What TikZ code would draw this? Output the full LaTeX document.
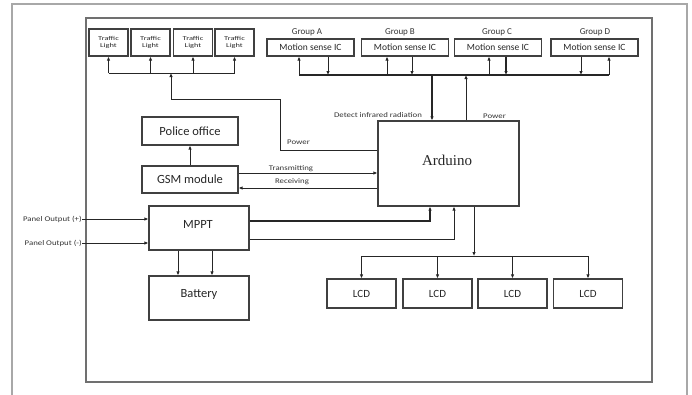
\documentclass[tikz,border=0pt]{standalone}
\usepackage{fontspec}
\setmainfont{Carlito}
\newfontfamily\ardfont{Liberation Serif}
\newfontfamily\widesans[FakeStretch=1.22]{Carlito}
\newfontfamily\xwidesans[FakeStretch=1.4]{Carlito}
\usetikzlibrary{arrows.meta}
\definecolor{boxline}{HTML}{404040}
\definecolor{frameA}{HTML}{A8A8A8}
\definecolor{frameB}{HTML}{707070}
\tikzset{
  blk/.style={draw=boxline, line width=1.2pt, rectangle, inner sep=0pt, align=center, font=\fontsize{12.5}{14}\selectfont, text=black!85},
  mic/.style={blk, minimum width=87pt, minimum height=17pt, font=\fontsize{9.5}{11}\selectfont},
  tlbox/.style={blk, minimum width=39pt, minimum height=27pt, font=\xwidesans\fontsize{6}{7.5}\selectfont},
  lcd/.style={blk, minimum width=69pt, minimum height=29pt, font=\fontsize{11}{13}\selectfont},
  wire/.style={draw=black!85, line width=0.9pt},
  bus/.style={draw=black!85, line width=1.4pt},
  arr/.style={wire, -{Latex[length=4pt,width=3.5pt]}},
  barr/.style={bus, -{Latex[length=4pt,width=3.5pt]}},
  lbl/.style={inner sep=0pt, font=\widesans\fontsize{7.2}{9}\selectfont, text=black!80},
  grp/.style={inner sep=0pt, font=\fontsize{9}{11}\selectfont, text=black!80},
}
\begin{document}
\begin{tikzpicture}[x=1pt,y=-1pt]
\useasboundingbox (0,0) rectangle (692,394);
% frames
\draw[frameA, line width=1.3pt] (12,395) -- (12,4) -- (687,4) -- (687,395);
\draw[frameB, line width=1.2pt] (86,18) rectangle (652,382);

% traffic lights
\node[tlbox] (tl1) at (108.5,42.5) {Traffic\\Light};
\node[tlbox] (tl2) at (150.5,42.5) {Traffic\\Light};
\node[tlbox] (tl3) at (193,42.5) {Traffic\\Light};
\node[tlbox] (tl4) at (234.5,42.5) {Traffic\\Light};

% motion sensors
\node[mic] (mA) at (310.5,47.5) {Motion sense IC};
\node[mic] (mB) at (405,47.5) {Motion sense IC};
\node[mic] (mC) at (498,47.5) {Motion sense IC};
\node[mic] (mD) at (594.5,47.5) {Motion sense IC};
\node[grp] (gA) at (307,32) {Group A};
\node[grp] (gB) at (400,32) {Group B};
\node[grp] (gC) at (497,32) {Group C};
\node[grp] (gD) at (595,32) {Group D};

% main blocks
\node[blk, minimum width=141pt, minimum height=85pt] (ard) at (448.5,163.5) {};
\node[inner sep=0pt, font=\ardfont\fontsize{15}{17}\selectfont, text=black!85] (ardt) at (447,160) {Arduino};
\node[blk, minimum width=96pt, minimum height=28pt] (pol) at (190,131) {Police office};
\node[blk, minimum width=96pt, minimum height=27pt] (gsm) at (190,179.5) {GSM module};
\node[blk, minimum width=100pt, minimum height=44pt] (mppt) at (199,228) {};
\node[inner sep=0pt, font=\fontsize{12.5}{14}\selectfont, text=black!85] (mpptt) at (198,224) {MPPT};
\node[blk, minimum width=100pt, minimum height=44pt] (bat) at (199,298) {};
\node[inner sep=0pt, font=\fontsize{12.5}{14}\selectfont, text=black!85] (batt) at (199,294) {Battery};

\node[lcd] (l1) at (361.5,293.5) {LCD};
\node[lcd] (l2) at (437.5,293.5) {LCD};
\node[lcd] (l3) at (512.5,293.5) {LCD};
\node[lcd] (l4) at (588,293.5) {LCD};

% panel outputs
\node[lbl, anchor=east] (pp) at (82,219) {Panel Output (+)};
\node[lbl, anchor=east] (pm) at (82,243) {Panel Output (-)};
\draw[arr] (pp.east) -- (mppt.west |- pp.east);
\draw[arr] (pm.east) -- (mppt.west |- pm.east);

% MPPT -> battery
\draw[arr] ([xshift=-21pt]mppt.south) -- ([xshift=-21pt]bat.north);
\draw[arr] ([xshift=13pt]mppt.south) -- ([xshift=13pt]bat.north);

% MPPT -> Arduino
\coordinate (m1) at (430,221);
\coordinate (m2) at (454,239);
\draw[barr] (mppt.east |- m1) -- (m1) -- (ard.south -| m1);
\draw[arr] (mppt.east |- m2) -- (m2) -- (ard.south -| m2);

% GSM
\draw[arr] (gsm.north) -- (pol.south);
\coordinate (tx) at (300,173);
\coordinate (rx) at (300,188);
\draw[arr] (gsm.east |- tx) -- (ard.west |- tx);
\draw[arr] (ard.west |- rx) -- (gsm.east |- rx);
\node[lbl] (txl) at (291,169) {Transmitting};
\node[lbl] (rxl) at (292,182) {Receiving};

% traffic light bus
\coordinate (tlb) at (171,73);
\draw[wire] (tl1.south |- tlb) -- (tl4.south |- tlb);
\foreach \t in {tl1,tl2,tl3,tl4} \draw[arr] (\t.south |- tlb) -- (\t.south);
\coordinate (pw1) at (280,150);
\coordinate (pw2) at (280,99);
\coordinate (pw3) at (171,99);
\draw[arr] (ard.west |- pw1) -- (pw1) -- (pw2) -- (pw3) -- (tlb);
\node[lbl, anchor=west] (pwl) at (287,142) {Power};

% motion bus
\coordinate (mb) at (432,75);
\draw[bus] ([xshift=-11.5pt]mA.south |- mb) -- ([xshift=14.5pt]mD.south |- mb);
\draw[arr] ([xshift=-11.5pt]mA.south |- mb) -- ([xshift=-11.5pt]mA.south);
\draw[arr] ([xshift=17.5pt]mA.south) -- ([xshift=17.5pt]mA.south |- mb);
\draw[arr] ([xshift=-18pt]mB.south |- mb) -- ([xshift=-18pt]mB.south);
\draw[arr] ([xshift=7pt]mB.south) -- ([xshift=7pt]mB.south |- mb);
\draw[arr] ([xshift=-9pt]mC.south |- mb) -- ([xshift=-9pt]mC.south);
\draw[barr] ([xshift=8pt]mC.south) -- ([xshift=8pt]mC.south |- mb);
\draw[arr] ([xshift=-13.5pt]mD.south) -- ([xshift=-13.5pt]mD.south |- mb);
\draw[arr] ([xshift=14.5pt]mD.south |- mb) -- ([xshift=14.5pt]mD.south);
\draw[barr] (mb) -- (ard.north -| mb);
\coordinate (pu) at (466,75);
\draw[arr] (ard.north -| pu) -- (pu);
\node[lbl] (detl) at (378,115) {Detect infrared radiation};
\node[lbl, anchor=west] (pwl2) at (483,116) {Power};

% LCD bus
\coordinate (lb) at (474,256);
\draw[arr] (ard.south -| lb) -- (lb);
\draw[wire] (l1.north |- lb) -- (l4.north |- lb);
\foreach \l in {l1,l2,l3,l4} \draw[arr] (\l.north |- lb) -- (\l.north);
\end{tikzpicture}
\end{document}
